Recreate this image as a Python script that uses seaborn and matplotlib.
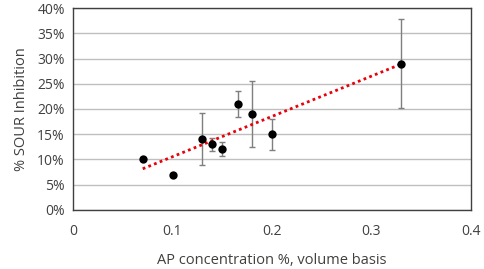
import matplotlib
matplotlib.use("Agg")
import matplotlib.pyplot as plt
import matplotlib.ticker as mtick
import numpy as np
import pandas as pd
import seaborn as sns

# AP concentration (% v/v) and SOUR inhibition (%)
conc = [0.07, 0.10, 0.13, 0.14, 0.15, 0.166, 0.18, 0.20, 0.33]
inhibition = [10, 7, 14, 13, 12, 21, 19, 15, 29]
err = [0, 0, 5.1, 1.3, 1.35, 2.65, 6.5, 3.1, 8.8]

df = pd.DataFrame({"conc": conc, "inh": inhibition, "err": err})

sns.set_theme(style="white")
plt.rcParams['font.family'] = ['Open Sans', 'DejaVu Sans']
txt = "#404040"

fig, ax = plt.subplots(figsize=(4.84, 2.69), dpi=100)
fig.subplots_adjust(left=0.151, right=0.973, top=0.97, bottom=0.22)

# error bars first, then the points
has_err = df[df["err"] > 0]
ax.errorbar(has_err["conc"], has_err["inh"], yerr=has_err["err"], fmt="none",
            ecolor="#7f7f7f", elinewidth=1, capsize=2.5, capthick=1, zorder=2)
sns.scatterplot(data=df, x="conc", y="inh", color="black", s=36,
                edgecolor="black", linewidth=0, zorder=4, ax=ax)

# linear trend line over the data range
coef = np.polyfit(df["conc"], df["inh"], 1)
xs = np.array([min(conc), max(conc)])
ax.plot(xs, np.polyval(coef, xs), color="#e8000b", ls=(0, (1, 1.2)), lw=2, zorder=3)

ax.set_xlim(0, 0.4)
ax.set_ylim(0, 40)
ax.set_xticks([0, 0.1, 0.2, 0.3, 0.4])
ax.set_xticklabels(["0", "0.1", "0.2", "0.3", "0.4"])
ax.set_yticks(range(0, 41, 5))
ax.yaxis.set_major_formatter(mtick.FuncFormatter(lambda v, p: f"{int(v)}%"))
ax.yaxis.grid(True, color="#bfbfbf", lw=1)
ax.set_axisbelow(True)

for s in ax.spines.values():
    s.set_color("#404040")
    s.set_linewidth(1)

ax.tick_params(axis="x", length=4, width=1, color="#404040", labelsize=10, labelcolor=txt, pad=6)
ax.tick_params(axis="y", length=0, labelsize=10, labelcolor=txt, pad=6)
ax.set_xlabel("AP concentration %, volume basis", fontsize=10.5, color=txt, labelpad=10)
ax.set_ylabel("% SOUR Inhibition", fontsize=10.5, color=txt, labelpad=6)

fig.savefig("out.png", dpi=100)
